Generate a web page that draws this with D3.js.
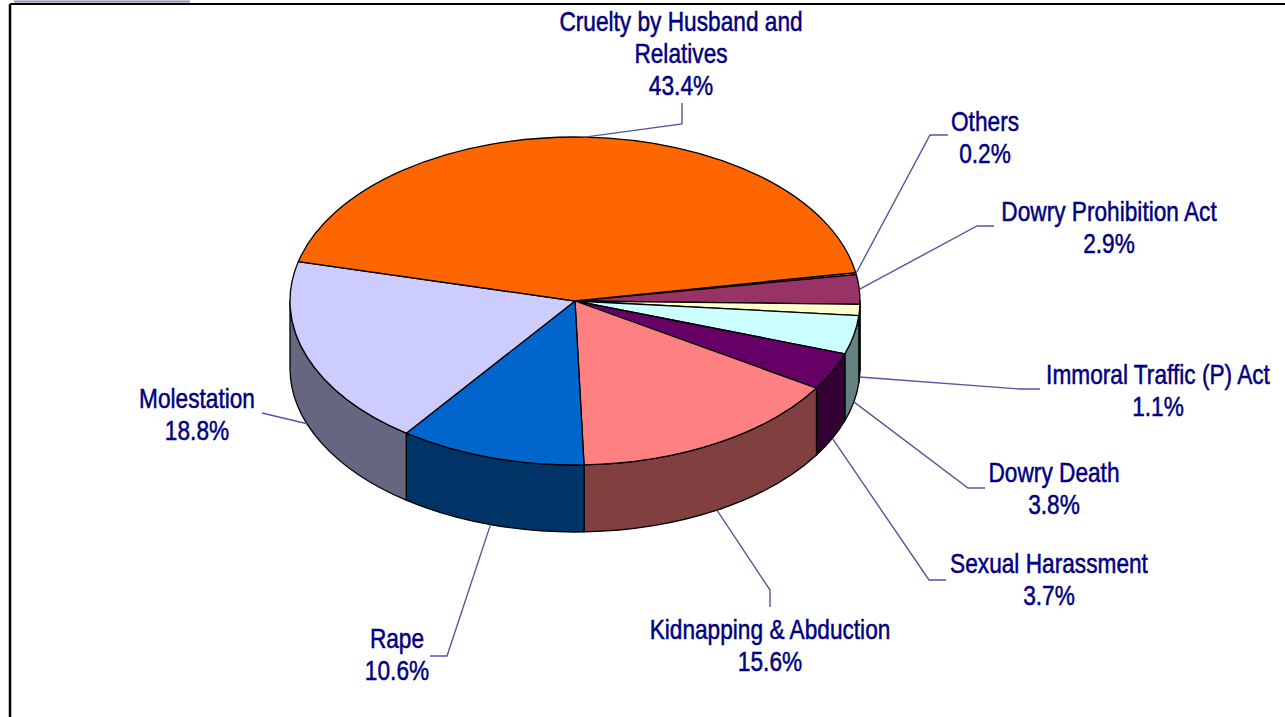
<!DOCTYPE html>
<html>
<head>
<meta charset="utf-8">
<script src="https://cdn.jsdelivr.net/npm/d3@7"></script>
<style>
  body { margin: 0; background: #fff; }
  text { font-family: "Liberation Sans", Arial, sans-serif; }
</style>
</head>
<body>
<div id="chart"></div>
<script>
// crime head share (%), in pie order (clockwise)
const categories = ["Others", "Dowry Prohibition Act", "Immoral Traffic (P) Act", "Dowry Death",
    "Sexual Harassment", "Kidnapping & Abduction", "Rape", "Molestation", "Cruelty by Husband and Relatives"]
const shares = [0.2, 2.9, 1.1, 3.8, 3.7, 15.6, 10.6, 18.8, 43.4]
const sliceColors = ["#9999FF", "#993366", "#FFFFCC", "#CCFFFF", "#660066", "#FF8080", "#0066CC", "#CCCCFF", "#FF6600"]
const labelLines = [["Others"], ["Dowry Prohibition Act"], ["Immoral Traffic (P) Act"], ["Dowry Death"],
    ["Sexual Harassment"], ["Kidnapping & Abduction"], ["Rape"], ["Molestation"], ["Cruelty by Husband and", "Relatives"]]

// label layout: text centre x, first baseline y, leader knee and leader end
const labelLayout = [
    { x: 985, y: 131, knee: [930, 135], end: [948, 135] },
    { x: 1109, y: 221, knee: [977, 226], end: [994, 226] },
    { x: 1158, y: 384, knee: [1020, 389], end: [1040, 389] },
    { x: 1054, y: 482, knee: [968, 488], end: [985, 488] },
    { x: 1049, y: 573, knee: [929, 580], end: [946, 580] },
    { x: 770, y: 639, knee: [770, 590], end: [770, 607] },
    { x: 397, y: 648, knee: [447, 656], end: [430, 656] },
    { x: 197, y: 408, knee: [262, 413], end: [262, 413] },
    { x: 681, y: 31, knee: [682, 124], end: [682, 103] }
]

let width = 1285, height = 717
let svg = d3.select("#chart").append("svg")
    .attr("width", width)
    .attr("height", height)

// page frame
svg.append("line").attr("x1", 14).attr("x2", 190).attr("y1", 1.5).attr("y2", 1.5)
    .attr("stroke", "#8c8cb0").attr("stroke-width", 2)
svg.append("line").attr("x1", 10).attr("x2", width).attr("y1", 4).attr("y2", 4)
    .attr("stroke", "#000").attr("stroke-width", 2)
svg.append("line").attr("x1", 10).attr("x2", 10).attr("y1", 4).attr("y2", height)
    .attr("stroke", "#000").attr("stroke-width", 2.5)

let rx = 285, ry = 164, depth = 67, cx = 575, cy = 301
let startDeg = 80

let pie = d3.pie().sort(null).value(function(d) { return d })
    .startAngle(startDeg * Math.PI / 180)
    .endAngle(startDeg * Math.PI / 180 + 2 * Math.PI)
let arcs = pie(shares)

function pt(a, dy) {
    return [cx + rx * Math.sin(a), cy - ry * Math.cos(a) + (dy || 0)]
}

function topPath(d) {
    let p0 = pt(d.startAngle), p1 = pt(d.endAngle)
    let large = d.endAngle - d.startAngle > Math.PI ? 1 : 0
    return "M" + cx + "," + cy + "L" + p0 + "A" + rx + "," + ry + " 0 " + large + " 1 " + p1 + "Z"
}

function wallPath(d) {
    for (let k of [0, 2 * Math.PI]) {
        let s = Math.max(d.startAngle, Math.PI / 2 + k)
        let e = Math.min(d.endAngle, 3 * Math.PI / 2 + k)
        if (e > s) {
            return "M" + pt(s) + "A" + rx + "," + ry + " 0 0 1 " + pt(e) +
                "L" + pt(e, depth) + "A" + rx + "," + ry + " 0 0 0 " + pt(s, depth) + "Z"
        }
    }
    return null
}

function shade(c) {
    let col = d3.rgb(c)
    return d3.rgb(col.r * 0.5, col.g * 0.5, col.b * 0.5)
}

let g = svg.append("g")

g.selectAll("path.wall")
    .data(arcs.filter(function(d) { return wallPath(d) }))
    .enter()
    .append("path")
    .attr("class", "wall")
    .attr("d", wallPath)
    .attr("fill", function(d) { return shade(sliceColors[d.index]) })
    .attr("stroke", "#000")
    .attr("stroke-width", 1.3)
    .attr("stroke-linejoin", "round")

g.selectAll("path.top")
    .data(arcs)
    .enter()
    .append("path")
    .attr("class", "top")
    .attr("d", topPath)
    .attr("fill", function(d) { return sliceColors[d.index] })
    .attr("stroke", "#000")
    .attr("stroke-width", 1.3)
    .attr("stroke-linejoin", "round")

// leader lines: front slices attach at the bottom rim, back slices at the top rim
function anchor(d) {
    let mid = (d.startAngle + d.endAngle) / 2
    let m = mid % (2 * Math.PI)
    let front = m > Math.PI / 2 && m < 3 * Math.PI / 2
    return pt(mid, front ? depth : 0)
}

g.selectAll("polyline.leader")
    .data(arcs)
    .enter()
    .append("polyline")
    .attr("class", "leader")
    .attr("points", function(d) {
        let lay = labelLayout[d.index]
        return [anchor(d), lay.knee, lay.end].map(function(p) { return p.join(",") }).join(" ")
    })
    .attr("fill", "none")
    .attr("stroke", "#5656a0")
    .attr("stroke-width", 1.4)

// narrow sans: regular face squeezed horizontally
let labels = g.selectAll("g.label")
    .data(arcs)
    .enter()
    .append("g")
    .attr("class", "label")
    .attr("transform", function(d) {
        let lay = labelLayout[d.index]
        return "translate(" + lay.x + "," + lay.y + ")scale(0.84,1)"
    })
    .append("text")
    .attr("text-anchor", "middle")
    .attr("fill", "#000080")
    .attr("stroke", "#000080")
    .attr("stroke-width", 0.5)
    .style("font-size", "27px")

labels.each(function(d) {
    let lines = labelLines[d.index].concat([shares[d.index].toFixed(1) + "%"])
    d3.select(this).selectAll("tspan")
        .data(lines)
        .enter()
        .append("tspan")
        .attr("x", 0)
        .attr("y", function(t, i) { return i * 32 })
        .text(function(t) { return t })
})
</script>
</body>
</html>
